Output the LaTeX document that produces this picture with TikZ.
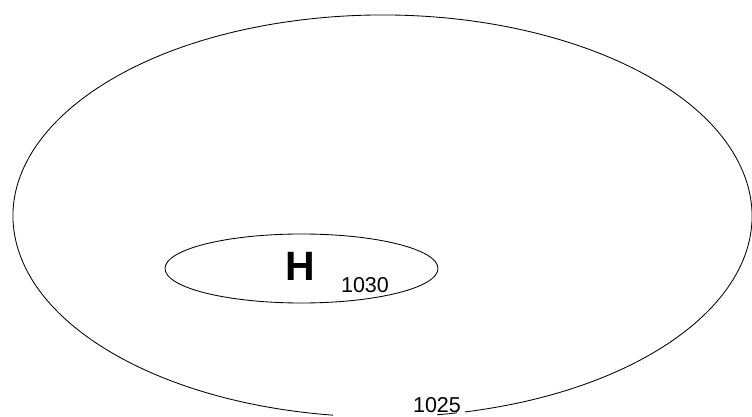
\documentclass[tikz,border=0pt]{standalone}
\usepackage{fontspec}
\setmainfont{Liberation Sans}
\usetikzlibrary{calc}
\begin{document}
\begin{tikzpicture}[x=1pt,y=1pt,
  isobar/.style={draw=black,line width=0.85pt},
  hlabel/.style={font=\fontsize{41}{41}\selectfont\bfseries,inner sep=0pt},
  plabel/.style={font=\fontsize{21.5}{21.5}\selectfont,inner sep=0pt}]
\useasboundingbox (0,0) rectangle (752,417);
% outer isobar 1025
\coordinate (oc) at (382.5,201);
\draw[isobar] ($(oc)+(282.9:369.5 and 201)$)
  arc[start angle=282.9,end angle=622.3,x radius=369.5,y radius=201];
\draw[isobar] ($(oc)+(278.5:369.5 and 201)$)
  arc[start angle=278.5,end angle=281.6,x radius=369.5,y radius=201];
% inner isobar 1030
\coordinate (ic) at (301.5,148.5);
\draw[isobar] (ic) ellipse[x radius=136.5,y radius=34.5];
% labels
\node[hlabel] (H) at (300,151) {H};
\node[plabel] (p1030) at (365,132) {1030};
\node[plabel] (p1025) at (437,12) {1025};
\end{tikzpicture}
\end{document}
